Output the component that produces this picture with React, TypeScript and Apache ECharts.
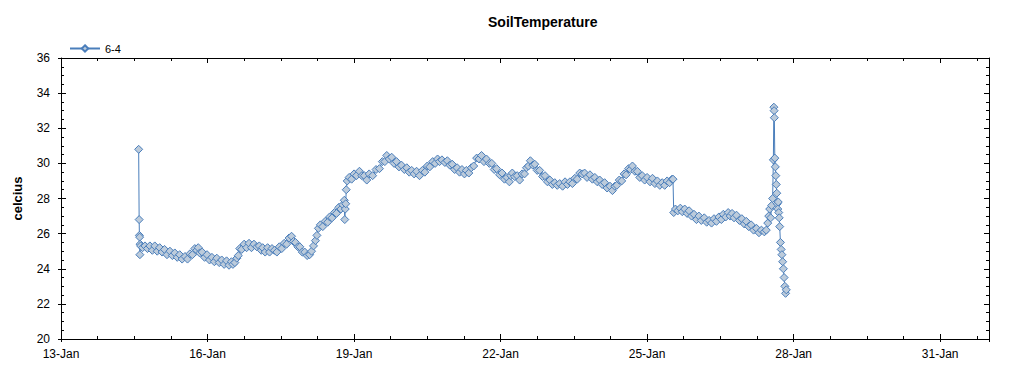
import React, { useEffect, useRef } from "react";
import * as echarts from "echarts";

const TITLE = "SoilTemperature";
const SERIES_NAME = "6-4";
const Y_NAME = "celcius";
const X_START_DAY = 13; // 13-Jan
const X_SPAN_DAYS = 19;
const Y_MIN = 20;
const Y_MAX = 36;

// Day of January (fractional) of each reading
const days: number[] = [
  14.59, 14.6, 14.605, 14.61, 14.615, 14.62, 14.63, 14.67, 14.72, 14.77, 14.82, 14.87, 14.92, 14.97,
  15.02, 15.07, 15.12, 15.17, 15.23, 15.28, 15.33, 15.38, 15.43, 15.48, 15.54, 15.59, 15.64, 15.69,
  15.74, 15.78, 15.81, 15.84, 15.89, 15.94, 15.99, 16.04, 16.09, 16.14, 16.19, 16.24, 16.29, 16.34,
  16.39, 16.44, 16.49, 16.52, 16.56, 16.6, 16.63, 16.66, 16.7, 16.75, 16.8, 16.85, 16.9, 16.95,
  17.01, 17.06, 17.1, 17.13, 17.18, 17.23, 17.27, 17.32, 17.37, 17.42, 17.47, 17.52, 17.57, 17.62,
  17.67, 17.72, 17.76, 17.8, 17.85, 17.89, 17.94, 17.99, 18.04, 18.09, 18.13, 18.17, 18.21, 18.24,
  18.27, 18.31, 18.36, 18.41, 18.46, 18.5, 18.55, 18.6, 18.64, 18.69, 18.73, 18.77, 18.8, 18.81,
  18.82, 18.83, 18.84, 18.86, 18.9, 18.95, 19.0, 19.05, 19.11, 19.16, 19.21, 19.26, 19.31, 19.38,
  19.45, 19.52, 19.58, 19.63, 19.67, 19.72, 19.77, 19.82, 19.87, 19.92, 19.97, 20.03, 20.08, 20.13,
  20.18, 20.23, 20.28, 20.34, 20.4, 20.45, 20.5, 20.55, 20.61, 20.66, 20.71, 20.75, 20.8, 20.86,
  20.91, 20.96, 21.01, 21.06, 21.11, 21.16, 21.21, 21.26, 21.3, 21.35, 21.4, 21.45, 21.51, 21.56,
  21.61, 21.66, 21.71, 21.77, 21.82, 21.87, 21.92, 21.98, 22.03, 22.08, 22.13, 22.18, 22.21, 22.24,
  22.29, 22.34, 22.39, 22.44, 22.49, 22.53, 22.57, 22.61, 22.66, 22.7, 22.75, 22.8, 22.86, 22.91,
  22.96, 23.01, 23.06, 23.11, 23.16, 23.21, 23.27, 23.32, 23.37, 23.42, 23.47, 23.52, 23.57, 23.62,
  23.67, 23.72, 23.77, 23.83, 23.88, 23.93, 23.98, 24.03, 24.08, 24.13, 24.18, 24.24, 24.29, 24.34,
  24.38, 24.43, 24.48, 24.53, 24.57, 24.62, 24.66, 24.7, 24.75, 24.8, 24.85, 24.9, 24.95, 25.0,
  25.06, 25.11, 25.16, 25.21, 25.26, 25.31, 25.36, 25.41, 25.46, 25.51, 25.53, 25.545, 25.58, 25.63,
  25.68, 25.72, 25.77, 25.82, 25.86, 25.91, 25.96, 26.01, 26.06, 26.11, 26.17, 26.22, 26.27, 26.32,
  26.37, 26.42, 26.47, 26.52, 26.56, 26.61, 26.66, 26.7, 26.74, 26.78, 26.83, 26.89, 26.94, 26.99,
  27.03, 27.08, 27.13, 27.18, 27.24, 27.29, 27.34, 27.4, 27.44, 27.47, 27.49, 27.51, 27.53, 27.55,
  27.57, 27.585, 27.595, 27.6, 27.605, 27.615, 27.625, 27.635, 27.645, 27.655, 27.665, 27.675, 27.685, 27.695,
  27.705, 27.715, 27.73, 27.745, 27.76, 27.775, 27.79, 27.805, 27.82, 27.835, 27.85,
];

// Soil temperature readings (celcius)
const temps: number[] = [
  30.8, 26.8, 25.9, 25.8, 24.8, 25.4, 25.3, 25.2, 25.3, 25.15, 25.3, 25.05, 25.3, 25.0,
  25.2, 24.95, 25.1, 24.8, 25.0, 24.75, 24.9, 24.65, 24.8, 24.55, 24.7, 24.55, 24.85, 24.8,
  25.15, 25.05, 25.2, 24.9, 24.95, 24.65, 24.8, 24.5, 24.65, 24.4, 24.6, 24.35, 24.5, 24.25,
  24.45, 24.2, 24.4, 24.25, 24.35, 24.6, 24.75, 25.15, 25.1, 25.4, 25.2, 25.45, 25.2, 25.4,
  25.25, 25.3, 25.05, 25.2, 24.95, 25.2, 24.95, 25.15, 25.05, 24.95, 25.25, 25.15, 25.45, 25.4,
  25.75, 25.85, 25.55, 25.5, 25.25, 25.25, 24.95, 24.95, 24.75, 24.8, 25.0, 25.3, 25.6, 25.9,
  26.3, 26.5, 26.4, 26.7, 26.65, 26.95, 26.9, 27.2, 27.15, 27.5, 27.4, 27.65, 27.9, 26.8,
  27.4, 27.7, 28.5, 29.0, 29.2, 29.1, 29.4, 29.3, 29.55, 29.3, 29.3, 29.05, 29.4, 29.3,
  29.65, 29.7, 30.1, 30.1, 30.45, 30.25, 30.35, 30.0, 30.1, 29.8, 29.9, 29.65, 29.75, 29.5,
  29.6, 29.4, 29.55, 29.3, 29.6, 29.5, 29.85, 29.8, 30.1, 30.0, 30.25, 30.1, 30.2, 30.05,
  30.15, 29.9, 29.95, 29.65, 29.75, 29.5, 29.65, 29.4, 29.6, 29.45, 29.75, 29.85, 30.3, 30.25,
  30.45, 30.1, 30.25, 30.0, 30.0, 29.65, 29.7, 29.35, 29.45, 29.1, 29.2, 28.95, 29.3, 29.45,
  29.25, 29.3, 29.05, 29.4, 29.4, 29.75, 29.85, 30.15, 29.9, 29.95, 29.6, 29.6, 29.25, 29.3,
  28.95, 29.05, 28.8, 28.9, 28.75, 28.85, 28.7, 28.95, 28.8, 28.95, 28.85, 29.15, 29.1, 29.45,
  29.4, 29.45, 29.2, 29.35, 29.1, 29.2, 28.95, 29.05, 28.8, 28.9, 28.6, 28.7, 28.45, 28.7,
  28.75, 29.05, 29.0, 29.4, 29.35, 29.7, 29.65, 29.85, 29.55, 29.55, 29.2, 29.3, 29.05, 29.2,
  28.95, 29.15, 28.85, 29.0, 28.75, 28.9, 28.75, 29.0, 28.9, 29.1, 29.1, 27.2, 27.4, 27.3,
  27.45, 27.25, 27.4, 27.15, 27.3, 27.0, 27.1, 26.8, 27.0, 26.75, 26.9, 26.65, 26.75, 26.6,
  26.85, 26.7, 26.95, 26.8, 27.1, 26.95, 27.2, 27.0, 27.15, 26.9, 27.05, 26.75, 26.85, 26.55,
  26.7, 26.4, 26.5, 26.2, 26.3, 26.05, 26.2, 26.1, 26.2, 26.6, 27.0, 27.4, 26.9, 27.6,
  28.0, 30.2, 33.2, 33.0, 32.6, 30.3, 29.8, 29.3, 28.8, 28.3, 27.7, 27.4, 27.8, 27.2,
  26.9, 26.4, 25.5, 25.1, 24.8, 24.4, 24.0, 23.5, 23.0, 22.6, 22.8,
];

const LINE_COLOR = "#4a7ebb";
const MARKER_FILL = "#bccbdb";
const FONT = "'Liberation Sans', Arial, sans-serif";

export default function App() {
  const ref = useRef<HTMLDivElement>(null);

  useEffect(() => {
    if (!ref.current) return;
    const chart = echarts.init(ref.current, undefined, { renderer: "svg" });
    const data = days.map((d, i) => [d - X_START_DAY, temps[i]]);

    const hiddenLabel = { show: false };
    const blackLine = { color: "#000", width: 1 };

    const option: any = {
      animation: false,
      backgroundColor: "#ffffff",
      textStyle: { fontFamily: FONT },
      title: {
        text: TITLE,
        left: 483,
        top: 10,
        textStyle: { fontSize: 14, fontWeight: "bold", color: "#000", fontFamily: FONT },
      },
      legend: {
        left: 64,
        top: 38,
        itemWidth: 30,
        itemHeight: 8,
        itemGap: 10,
        textStyle: { fontSize: 11, color: "#000", fontFamily: FONT },
        data: [SERIES_NAME],
      },
      grid: { left: 61, right: 35, top: 58, bottom: 36, containLabel: false },
      xAxis: [
        {
          type: "value",
          position: "bottom",
          min: 0,
          max: X_SPAN_DAYS,
          interval: 3,
          axisLine: { show: true, onZero: false, lineStyle: blackLine },
          axisTick: { show: true, inside: true, length: 5, lineStyle: blackLine },
          minorTick: { show: false },
          splitLine: { show: false },
          axisLabel: {
            show: true,
            color: "#000",
            fontSize: 12,
            fontFamily: FONT,
            margin: 9,
            showMaxLabel: false,
            formatter: (v: number) => (v % 3 === 0 ? `${v + X_START_DAY}-Jan` : ""),
          },
        },
        {
          type: "value",
          position: "bottom",
          min: 0,
          max: X_SPAN_DAYS,
          interval: 0.75,
          axisLine: { show: false, onZero: false },
          axisTick: { show: true, inside: true, length: 3, lineStyle: blackLine },
          splitLine: { show: false },
          axisLabel: hiddenLabel,
        },
        {
          type: "value",
          position: "bottom",
          min: 0,
          max: X_SPAN_DAYS,
          interval: 3,
          axisLine: { show: false, onZero: false },
          axisTick: { show: true, inside: false, length: 3, lineStyle: blackLine },
          splitLine: { show: false },
          axisLabel: hiddenLabel,
        },
        {
          type: "value",
          position: "top",
          min: 0,
          max: X_SPAN_DAYS,
          interval: 3,
          axisLine: { show: true, onZero: false, lineStyle: blackLine },
          axisTick: { show: true, inside: true, length: 5, lineStyle: blackLine },
          splitLine: { show: false },
          axisLabel: hiddenLabel,
        },
        {
          type: "value",
          position: "top",
          min: 0,
          max: X_SPAN_DAYS,
          interval: 0.75,
          axisLine: { show: false, onZero: false },
          axisTick: { show: true, inside: true, length: 3, lineStyle: blackLine },
          splitLine: { show: false },
          axisLabel: hiddenLabel,
        },
      ],
      yAxis: [
        {
          type: "value",
          position: "left",
          min: Y_MIN,
          max: Y_MAX,
          interval: 2,
          name: Y_NAME,
          nameLocation: "middle",
          nameGap: 37,
          nameTextStyle: { fontSize: 13, fontWeight: "bold", color: "#000", fontFamily: FONT },
          axisLine: { show: true, onZero: false, lineStyle: blackLine },
          axisTick: { show: true, inside: true, length: 5, lineStyle: blackLine },
          minorTick: { show: true, splitNumber: 4, length: 3, lineStyle: blackLine },
          splitLine: { show: false },
          axisLabel: { show: true, color: "#000", fontSize: 12, fontFamily: FONT, margin: 11 },
        },
        {
          type: "value",
          position: "left",
          min: Y_MIN,
          max: Y_MAX,
          interval: 2,
          axisLine: { show: false, onZero: false },
          axisTick: { show: true, inside: false, length: 3, lineStyle: blackLine },
          splitLine: { show: false },
          axisLabel: hiddenLabel,
        },
        {
          type: "value",
          position: "right",
          min: Y_MIN,
          max: Y_MAX,
          interval: 2,
          axisLine: { show: true, onZero: false, lineStyle: blackLine },
          axisTick: { show: true, inside: true, length: 5, lineStyle: blackLine },
          minorTick: { show: true, splitNumber: 4, length: 3, lineStyle: blackLine },
          splitLine: { show: false },
          axisLabel: hiddenLabel,
        },
      ],
      series: [
        {
          type: "line",
          name: SERIES_NAME,
          xAxisIndex: 0,
          yAxisIndex: 0,
          data,
          symbol: "diamond",
          symbolSize: 8,
          showSymbol: true,
          showAllSymbol: true,
          lineStyle: { color: LINE_COLOR, width: 1 },
          itemStyle: { color: MARKER_FILL, borderColor: LINE_COLOR, borderWidth: 1 },
          emphasis: { disabled: true },
        },
      ],
    };

    chart.setOption(option);
    return () => chart.dispose();
  }, []);

  return (
    <div
      ref={ref}
      style={{ position: "fixed", left: 0, top: 0, width: 1024, height: 375, background: "#fff" }}
    />
  );
}
